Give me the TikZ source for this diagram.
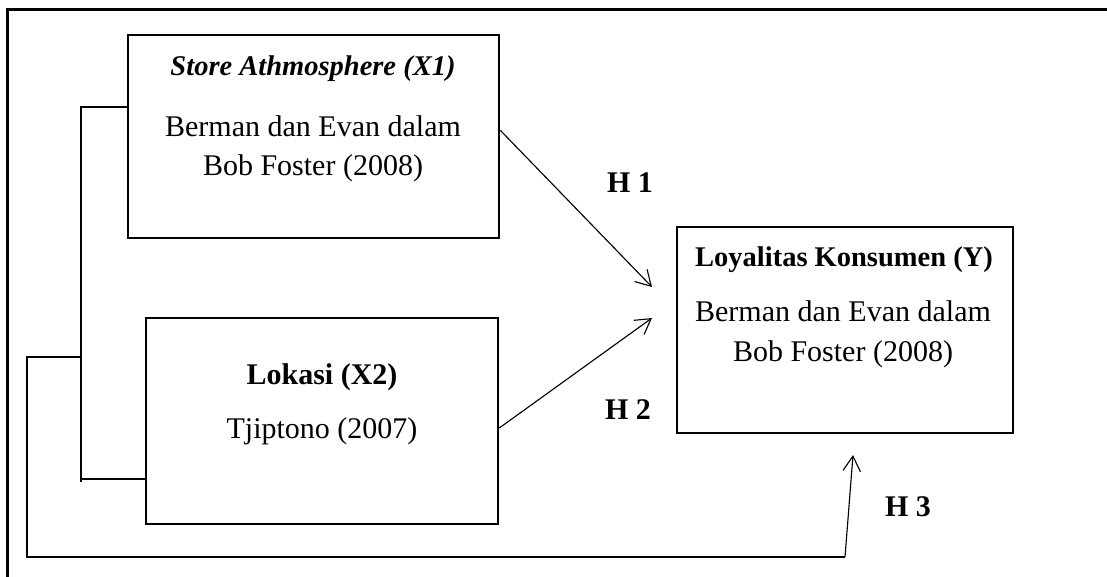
\documentclass[tikz,border=0pt]{standalone}
\usepackage{fontspec}
\setmainfont{Liberation Serif}
\usetikzlibrary{arrows.meta,positioning}

\tikzset{
  varbox/.style={draw, line width=1pt, inner sep=0pt},
  txt/.style={font=\fontsize{12}{14}\selectfont, inner sep=0pt, anchor=base},
  ttl/.style={font=\fontsize{11.4}{14}\selectfont, inner sep=0pt, anchor=base},
  hlabel/.style={font=\fontsize{12}{14}\selectfont\bfseries, inner sep=0pt},
  link/.style={line width=0.45pt},
  hyp/.style={line width=0.45pt, -{Straight Barb[length=6pt,width=7pt]}}
}

\begin{document}
\begin{tikzpicture}[x=0.4pt,y=-0.4pt]
  \clip (0,0) rectangle (1107,576);
  \useasboundingbox (0,0) rectangle (1107,576);
  % outer frame (runs past the page)
  \draw [line width=1.2pt] (7,9) rectangle (1130,600);

  % variable boxes
  \node [varbox, minimum width=371*0.4pt, minimum height=203*0.4pt] (x1) at (313.5,136.5) {};
  \node [varbox, minimum width=352*0.4pt, minimum height=206*0.4pt] (x2) at (322,421) {};
  \node [varbox, minimum width=336*0.4pt, minimum height=206*0.4pt] (y) at (845,330) {};

  % texts
  \node [ttl] (x1title) at (313,75) {\textbf{\textit{Store Athmosphere (X1)}}};
  \node [txt] (x1src) at (313,136) {Berman dan Evan dalam};
  \node [txt] (x1year) at (313,175) {Bob Foster (2008)};
  \node [txt] (x2title) at (322,384) {\textbf{Lokasi (X2)}};
  \node [txt] (x2src) at (322,438) {Tjiptono (2007)};
  \node [ttl] (ytitle) at (844,266) {\textbf{Loyalitas Konsumen (Y)}};
  \node [txt] (ysrc) at (843,321) {Berman dan Evan dalam};
  \node [txt] (yyear) at (843,361) {Bob Foster (2008)};

  % hypothesis labels
  \node [hlabel] (h1) at (630,183) {H 1};
  \node [hlabel] (h2) at (628,410) {H 2};
  \node [hlabel] (h3) at (908,507) {H 3};

  % bracket joining X1 and X2
  \coordinate (jtop) at (81,107);
  \coordinate (jbot) at (81,479);
  \coordinate (jmid) at (81,357);
  \coordinate (outl) at (27,357);
  \coordinate (outb) at (27,557);
  \coordinate (outr) at (845,557);
  \draw [link] (x1.west |- jtop) -- (jtop) -- (81,482);
  \draw [link] (jbot) -- (x2.west |- jbot);
  \draw [link] (jmid) -- (outl) -- (outb) -- (outr);

  % arrows to Y
  \coordinate (t1) at (652,287);
  \coordinate (t2) at (652,318);
  \coordinate (t3) at (853,455);
  \draw [hyp] ([yshift=2.5pt]x1.east) -- (t1);
  \draw [hyp] ([yshift=-2.8pt]x2.east) -- (t2);
  \draw [hyp] (outr) -- (t3);
\end{tikzpicture}
\end{document}
